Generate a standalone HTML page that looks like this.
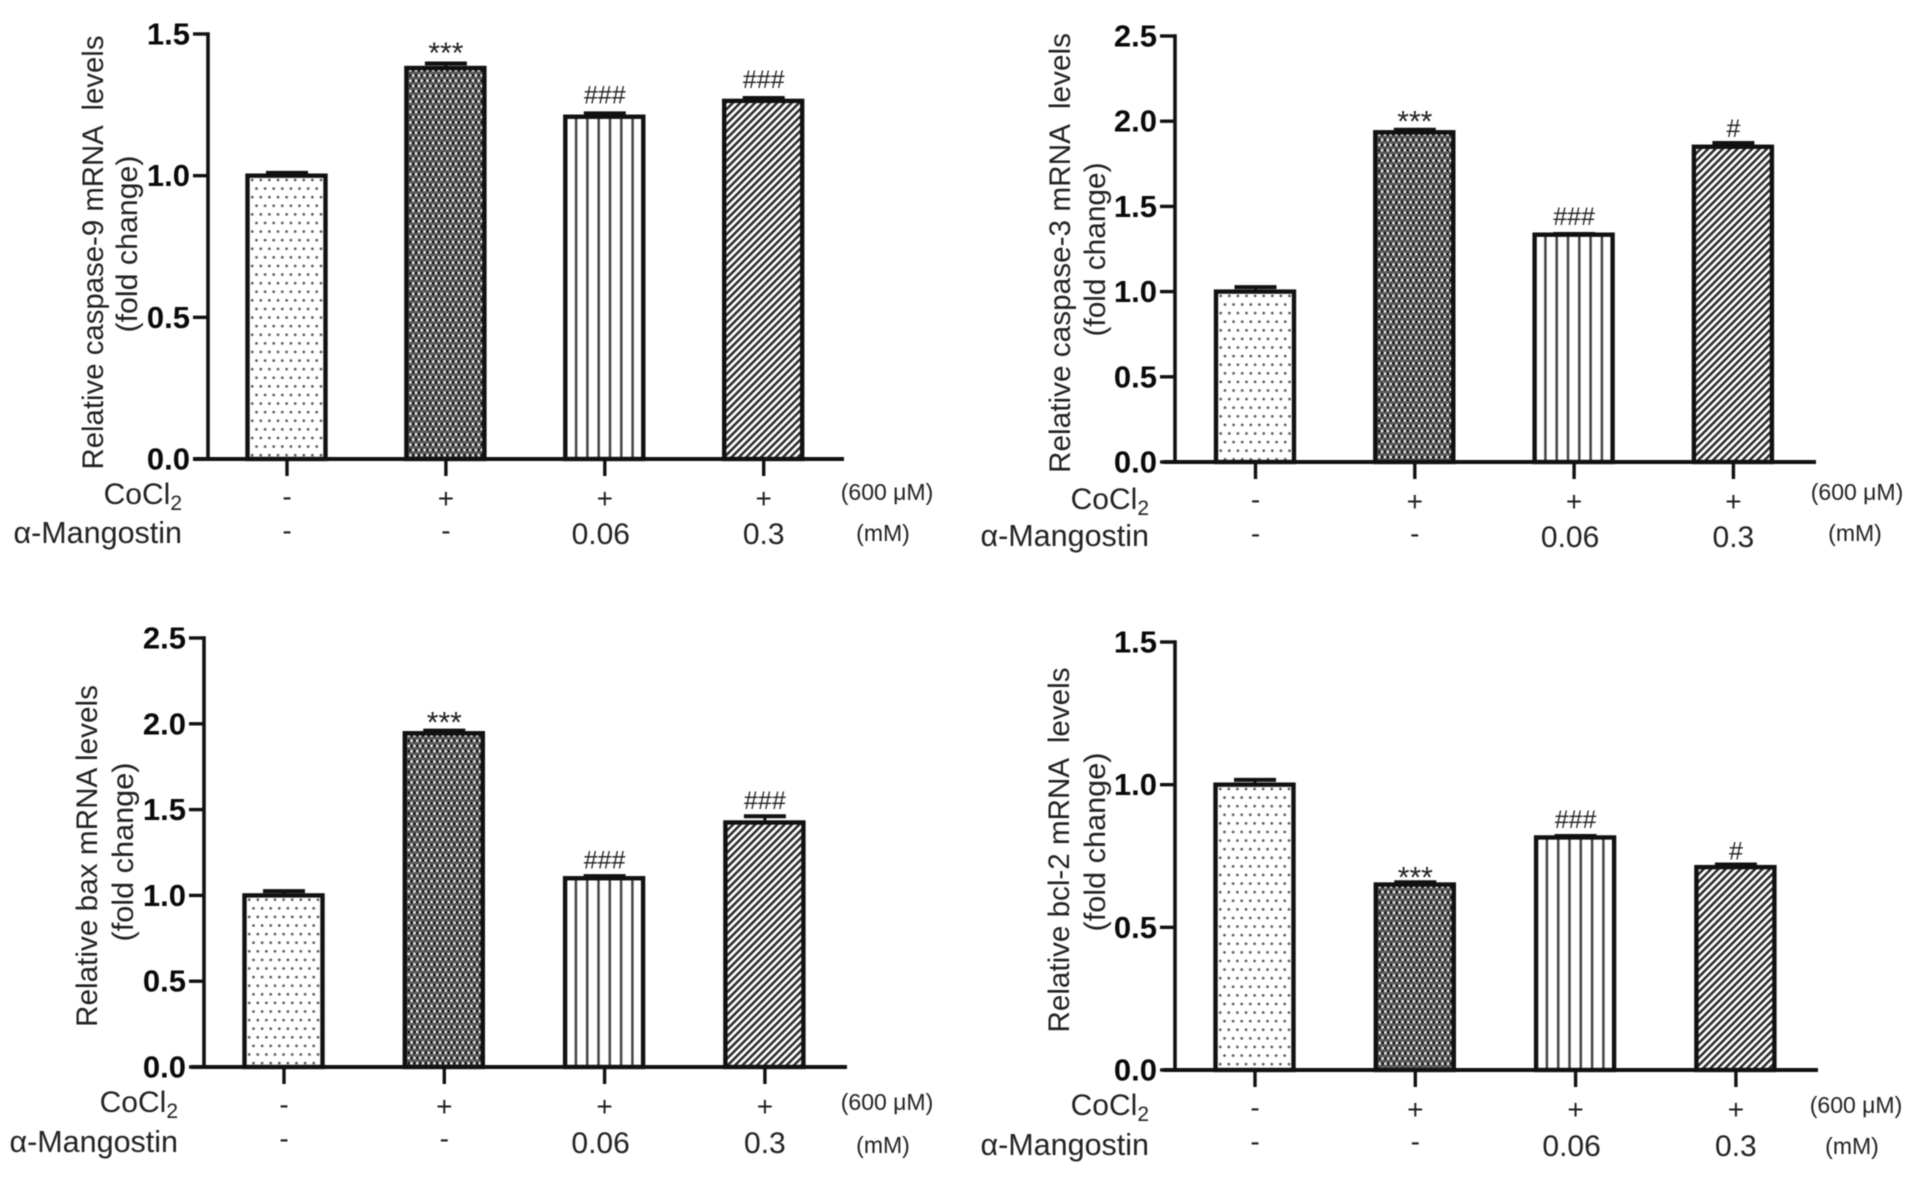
<!DOCTYPE html>
<html lang="en">
<head>
<meta charset="utf-8">
<title>mRNA levels bar charts</title>
<style>
html,body{margin:0;padding:0;background:#fff;width:1913px;height:1181px;overflow:hidden}
svg{display:block;filter:blur(.6px)}
text{font-family:"Liberation Sans",Arial,sans-serif;fill:#222;white-space:pre}
</style>
</head>
<body>
<svg id="figure" xmlns="http://www.w3.org/2000/svg" width="1913" height="1181" viewBox="0 0 1913 1181">
<defs>
<pattern id="base-dots" patternUnits="userSpaceOnUse" width="8.6" height="17.2">
<rect width="8.6" height="17.2" fill="#fff"/>
<circle cx="2.2" cy="4.3" r="1.35" fill="#555"/>
<circle cx="6.5" cy="12.9" r="1.35" fill="#555"/>
</pattern>
<pattern id="base-check" patternUnits="userSpaceOnUse" width="5.7" height="10.4">
<rect width="5.7" height="10.4" fill="#5a5a5a"/>
<rect x="0.2" y="1.1" width="2.5" height="2.5" fill="#f2f2f2"/>
<rect x="3" y="1.1" width="2.5" height="2.5" fill="#111"/>
<rect x="3" y="6.3" width="2.5" height="2.5" fill="#f2f2f2"/>
<rect x="0.2" y="6.3" width="2.5" height="2.5" fill="#111"/>
</pattern>
<pattern id="base-vline" patternUnits="userSpaceOnUse" width="11.3" height="10">
<rect width="11.3" height="10" fill="#fff"/>
<rect x="4.4" y="0" width="2.5" height="10" fill="#444"/>
</pattern>
<pattern id="base-diag" patternUnits="userSpaceOnUse" width="5.2" height="5.2" patternTransform="rotate(45)">
<rect width="5.2" height="5.2" fill="#fff"/>
<rect x="0" y="0" width="2.5" height="5.2" fill="#2a2a2a"/>
</pattern>
</defs>
</svg>
<script>
const caspase9Values = [1.0, 1.38, 1.208, 1.264];
const caspase9Errors = [0.01, 0.016, 0.012, 0.01];
const caspase9Sig = ['', '***', '###', '###'];

const caspase3Values = [1.0, 1.935, 1.334, 1.85];
const caspase3Errors = [0.026, 0.015, 0.004, 0.022];
const caspase3Sig = ['', '***', '###', '#'];

const baxValues = [1.0, 1.945, 1.1, 1.425];
const baxErrors = [0.025, 0.015, 0.012, 0.036];
const baxSig = ['', '***', '###', '###'];

const bcl2Values = [1.0, 0.65, 0.815, 0.711];
const bcl2Errors = [0.017, 0.008, 0.005, 0.009];
const bcl2Sig = ['', '***', '###', '#'];

const ticksTo15 = ['0.0', '0.5', '1.0', '1.5'];
const ticksTo25 = ['0.0', '0.5', '1.0', '1.5', '2.0', '2.5'];
const cocl2Labels = ['-', '+', '+', '+'];
const mangostinLabels = ['-', '-', '0.06', '0.3'];
const fillKinds = ['dots', 'check', 'vline', 'diag'];

const panels = [
  {key:'caspase-9', values:caspase9Values, errors:caspase9Errors, sig:caspase9Sig, ticks:ticksTo15,
   axisX:208, top:34, base:459, xStart:193, xEnd:844, first:287, step:158.9,
   starDy:-0.6, hashDy:-10,
   title:{text:'Relative caspase-9 mRNA  levels', x:103, y:252.5, len:434}, sub:{x:137, y:244, len:177},
   unit1:{x:887, dy:41}, unit2:{x:883, dy:82}, rowDy:[45, 85]},
  {key:'caspase-3', values:caspase3Values, errors:caspase3Errors, sig:caspase3Sig, ticks:ticksTo25,
   axisX:1175, top:36, base:462, xStart:1163, xEnd:1816, first:1255.5, step:159.3,
   starDy:2, hashDy:-9,
   title:{text:'Relative caspase-3 mRNA  levels', x:1070, y:253, len:440}, sub:{x:1105, y:249.5, len:174},
   unit1:{x:1857, dy:38}, unit2:{x:1855, dy:79}, rowDy:[47, 85]},
  {key:'bax', values:baxValues, errors:baxErrors, sig:baxSig, ticks:ticksTo25,
   axisX:204, top:638, base:1067, xStart:191, xEnd:847, first:284, step:160.3,
   starDy:2, hashDy:-7.5,
   title:{text:'Relative bax mRNA levels', x:97, y:856, len:342}, sub:{x:133, y:852, len:179},
   unit1:{x:887, dy:43}, unit2:{x:883, dy:86}, rowDy:[45, 86]},
  {key:'bcl-2', values:bcl2Values, errors:bcl2Errors, sig:bcl2Sig, ticks:ticksTo15,
   axisX:1175, top:642, base:1070, xStart:1163, xEnd:1818, first:1255, step:160.3,
   starDy:5.4, hashDy:-8,
   title:{text:'Relative bcl-2 mRNA  levels', x:1069, y:850, len:365}, sub:{x:1105, y:842, len:179},
   unit1:{x:1856, dy:43}, unit2:{x:1852, dy:84}, rowDy:[45, 86]}
];

const NS = 'http://www.w3.org/2000/svg';
const svg = document.getElementById('figure');
const defs = svg.querySelector('defs');

function make(tag, attrs, parent) {
  const el = document.createElementNS(NS, tag);
  for (const k in attrs) el.setAttribute(k, attrs[k]);
  parent.appendChild(el);
  return el;
}
function line(parent, x1, y1, x2, y2, w) {
  return make('line', {x1, y1, x2, y2, stroke:'#111', 'stroke-width':w}, parent);
}
function label(parent, str, x, y, size, anchor, weight) {
  const t = make('text', {x, y, 'font-size':size, 'text-anchor':anchor, 'font-weight':weight || 'normal'}, parent);
  t.textContent = str;
  return t;
}
function vertical(parent, str, x, y, len) {
  const t = make('text', {transform:`translate(${x},${y}) rotate(-90)`, 'font-size':30, 'text-anchor':'middle',
    textLength:len, lengthAdjust:'spacingAndGlyphs'}, parent);
  t.textContent = str;
  return t;
}

panels.forEach(function (p) {
  const maxV = parseFloat(p.ticks[p.ticks.length - 1]);
  const yScale = function (v) { return p.base - (v / maxV) * (p.base - p.top); };
  const xScale = function (i) { return p.first + i * p.step; };

  const g = make('g', {}, svg);
  
  

  const title = vertical(g, p.title.text, p.title.x, p.title.y, p.title.len);
  
  
  const sub = vertical(g, '(fold change)', p.sub.x, p.sub.y, p.sub.len);
  
  

  p.values.forEach(function (v, i) {
    const cx = xScale(i), y = yScale(v);
    const errTop = yScale(v + p.errors[i]);
    const patId = p.key + '-fill-' + i;
    const pat = make('pattern', {id:patId, href:'#base-' + fillKinds[i],
      patternTransform:(fillKinds[i] === 'diag' ? `translate(${cx - 40},0) rotate(45)` : `translate(${cx - 40 + (fillKinds[i] === 'vline' ? 5.65 : 3)},${y})`)}, defs);
    
    

    const stem = line(g, cx, y, cx, errTop, 3);
    
    
    const cap = line(g, cx - 21, errTop, cx + 21, errTop, 4);
    
    

    const bar = make('rect', {x:cx - 39.5, y:y, width:78, height:p.base - y, fill:'url(#' + patId + ')', stroke:'#111', 'stroke-width':4.4}, g);
    
    

    if (p.sig[i]) {
      const isStar = p.sig[i].charAt(0) === '*';
      const isSingle = p.sig[i] === '#';
      const mark = label(g, p.sig[i], cx, errTop + (isStar ? p.starDy : p.hashDy + (isSingle ? 3 : 0)), isStar ? 30 : 25, 'middle');
      
      
    }

    const tick = line(g, cx, p.base, cx, p.base + 17, 3.4);
    
    

    const c = cocl2Labels[i];
    const cLabel = label(g, c, cx, p.base + (c === '+' ? 49 : 47), 28, 'middle');
    
    

    const m = mangostinLabels[i];
    const mOffset = m === '0.06' ? -4 : 0;
    const mLabel = label(g, m, cx + mOffset, p.base + (m === '-' ? 81 : p.rowDy[1]), m === '-' ? 28 : 30, 'middle');
    
    
  });

  const yAxis = line(g, p.axisX, p.top - 1.8, p.axisX, p.base + 1.8, 3.6);
  
  
  const xAxis = line(g, p.xStart, p.base, p.xEnd, p.base, 4);
  
  

  p.ticks.forEach(function (tk) {
    const ty = yScale(parseFloat(tk));
    const mark = line(g, p.axisX - 15, ty, p.axisX, ty, 3.4);
    
    
    const txt = label(g, tk, p.axisX - 18, ty + 10.5, 31, 'end', 'bold');
    txt.style.fill = '#0a0a0a';
    
    
  });

  const coRow = label(g, 'CoCl', p.axisX - 26, p.base + p.rowDy[0], 30, 'end');
  const subTwo = make('tspan', {dy:6, 'font-size':21}, coRow);
  subTwo.textContent = '2';
  
  

  const maRow = label(g, 'α-Mangostin', p.axisX - 26, p.base + p.rowDy[1] - 1, 30.5, 'end');
  
  

  const u1 = label(g, '(600 μM)', p.unit1.x, p.base + p.unit1.dy, 23, 'middle');
  
  
  const u2 = label(g, '(mM)', p.unit2.x, p.base + p.unit2.dy, 23, 'middle');
  
  
});
</script>
</body>
</html>
